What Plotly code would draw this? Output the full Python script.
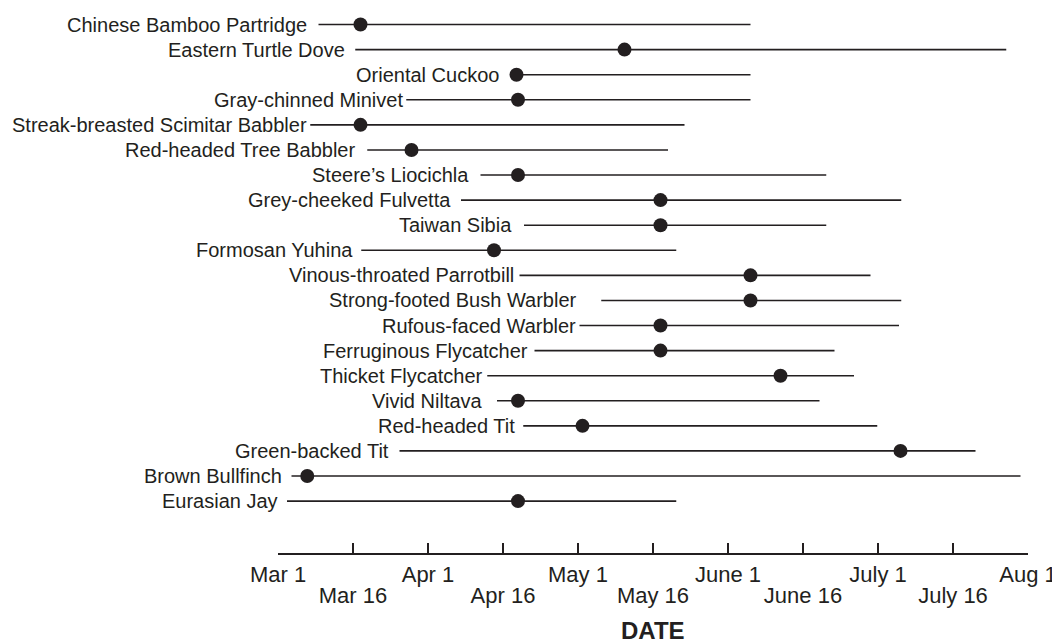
import plotly.graph_objects as go

# ---- data (x in half-month units: 0 = Mar 1, 1 = Mar 16, 2 = Apr 1, ... 10 = Aug 1) ----
species = [
    "Chinese Bamboo Partridge", "Eastern Turtle Dove", "Oriental Cuckoo",
    "Gray-chinned Minivet", "Streak-breasted Scimitar Babbler", "Red-headed Tree Babbler",
    "Steere\u2019s Liocichla", "Grey-cheeked Fulvetta", "Taiwan Sibia", "Formosan Yuhina",
    "Vinous-throated Parrotbill", "Strong-footed Bush Warbler", "Rufous-faced Warbler",
    "Ferruginous Flycatcher", "Thicket Flycatcher", "Vivid Niltava", "Red-headed Tit",
    "Green-backed Tit", "Brown Bullfinch", "Eurasian Jay",
]
season_start = [0.54, 1.03, 3.18, 1.71, 0.43, 1.19, 2.70, 2.44, 3.28, 1.11,
                3.22, 4.31, 4.02, 3.42, 2.79, 2.92, 3.27, 1.62, 0.18, 0.12]
season_peak = [1.10, 4.62, 3.18, 3.20, 1.10, 1.78, 3.20, 5.10, 5.10, 2.88,
               6.30, 6.30, 5.10, 5.10, 6.70, 3.20, 4.06, 8.30, 0.39, 3.20]
season_end = [6.30, 9.71, 6.30, 6.30, 5.42, 5.20, 7.31, 8.31, 7.31, 5.31,
              7.90, 8.31, 8.28, 7.42, 7.68, 7.22, 7.99, 9.30, 9.90, 5.31]

major_tick_vals = [0, 2, 4, 6, 8, 10]
major_tick_text = ["Mar 1", "Apr 1", "May 1", "June 1", "July 1", "Aug 1"]
minor_tick_vals = [1, 3, 5, 7, 9]
minor_tick_text = ["Mar 16", "Apr 16", "May 16", "June 16", "July 16"]
axis_title = "DATE"

# ---- styling ----
INK = "#231f20"
FONT = "Liberation Sans, Arial, Helvetica, sans-serif"
label_gap_px = [10, 8, 16, 1, 1, 10, 10, 8, 10, 6, 4, 23, 2, 5, 2, 12, 6, 9, 8, 7]

line_x, line_y = [], []
for s, e, name in zip(season_start, season_end, species):
    line_x += [s, e, None]
    line_y += [name, name, None]

fig = go.Figure()
fig.add_trace(go.Scatter(
    x=line_x, y=line_y, mode="lines",
    line=dict(color=INK, width=1.6), hoverinfo="skip", showlegend=False,
    cliponaxis=False,
))
fig.add_trace(go.Scatter(
    x=season_peak, y=species, mode="markers",
    marker=dict(color=INK, size=14, line=dict(width=0)),
    showlegend=False, cliponaxis=False,
))

annotations = []
for s, name, gap in zip(season_start, species, label_gap_px):
    annotations.append(dict(
        x=s, y=name, xref="x", yref="y", text=name, showarrow=False,
        xanchor="right", yanchor="middle", xshift=-gap,
        font=dict(family=FONT, size=20, color=INK),
    ))
annotations.append(dict(
    x=0.5, y=0, xref="paper", yref="paper", text="<b>" + axis_title + "</b>",
    showarrow=False, xanchor="center", yanchor="middle", yshift=-77,
    font=dict(family=FONT, size=24, color=INK),
))

n = len(species)
fig.update_layout(
    width=1052, height=636, autosize=False,
    margin=dict(l=269.7, r=32.3, t=3.5, b=91, pad=0),
    paper_bgcolor="white", plot_bgcolor="white",
    annotations=annotations,
    xaxis=dict(
        range=[0, 10], showgrid=False, zeroline=False,
        showline=True, linecolor=INK, linewidth=1.5,
        tickmode="array",
        tickvals=major_tick_vals + minor_tick_vals,
        ticktext=major_tick_text + [""] * len(minor_tick_vals),
        ticks="inside", ticklen=10, tickwidth=1.5, tickcolor=INK,
        tickfont=dict(family=FONT, size=22, color=INK),
        ticklabelstandoff=1,
    ),
    xaxis2=dict(
        range=[0, 10], overlaying="x", anchor="y", side="bottom",
        showgrid=False, zeroline=False, showline=False,
        tickmode="array", tickvals=minor_tick_vals, ticktext=minor_tick_text,
        ticks="", tickfont=dict(family=FONT, size=22, color=INK),
        ticklabelstandoff=27,
    ),
    yaxis=dict(
        type="category", categoryorder="array", categoryarray=species,
        range=[n - 1 + 2.07, -0.5], visible=False, showgrid=False,
    ),
)
# invisible helper so xaxis2 is drawn
fig.add_trace(go.Scatter(x=[None], y=[None], xaxis="x2", yaxis="y",
                         showlegend=False, hoverinfo="skip"))

fig.write_html("out.html")
